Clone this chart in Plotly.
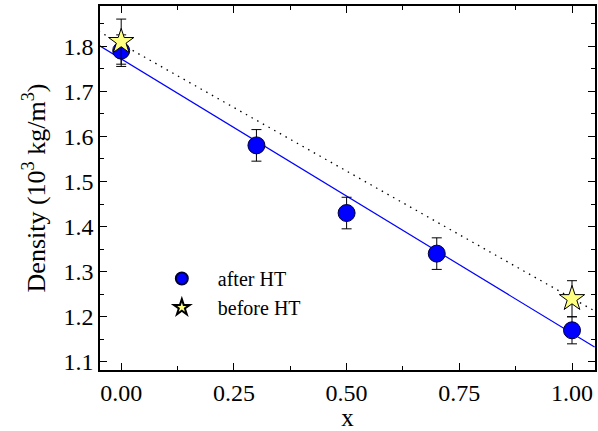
import plotly.graph_objects as go

after_x = [0.0, 0.3, 0.5, 0.7, 1.0]
after_y = [1.79, 1.58, 1.43, 1.34, 1.17]
after_err = [0.035, 0.035, 0.035, 0.035, 0.03]

before_x = [0.0, 1.0]
before_y = [1.81, 1.24]
before_err = [0.05, 0.04]

fit_after_x = [-0.05, 1.05]
fit_after_y = [1.802, 1.133]
fit_before_x = [-0.05, 1.05]
fit_before_y = [1.833, 1.213]

font_family = "Liberation Serif"

fig = go.Figure()
fig.add_trace(go.Scatter(x=fit_before_x, y=fit_before_y, mode="lines",
                         line=dict(color="black", width=1.3, dash="1.5px,5px"),
                         showlegend=False, hoverinfo="skip"))
fig.add_trace(go.Scatter(x=fit_after_x, y=fit_after_y, mode="lines",
                         line=dict(color="#0000ff", width=1.2),
                         showlegend=False, hoverinfo="skip"))
fig.add_trace(go.Scatter(x=after_x, y=after_y, mode="markers", name="after HT",
                         marker=dict(symbol="circle", size=17, color="#0000ff",
                                     line=dict(color="#000033", width=1)),
                         error_y=dict(type="data", array=after_err, color="black",
                                      thickness=1, width=5)))
fig.add_trace(go.Scatter(x=before_x, y=before_y, mode="markers", name="before HT",
                         marker=dict(symbol="star", size=19, color="#ffff80",
                                     line=dict(color="black", width=1)),
                         error_y=dict(type="data", array=before_err, color="black",
                                      thickness=1, width=5)))

axis_common = dict(showgrid=False, zeroline=False, showline=True, linecolor="black",
                   linewidth=1.5, mirror="ticks", ticks="inside", ticklen=7,
                   tickcolor="black", tickwidth=1.2,
                   tickfont=dict(family=font_family, size=24, color="black"))

fig.update_xaxes(range=[-0.047, 1.051], tickvals=[0, 0.25, 0.5, 0.75, 1.0],
                 ticktext=["0.00", "0.25", "0.50", "0.75", "1.00"],
                 minor=dict(tickvals=[0.125, 0.375, 0.625, 0.875], ticks="inside",
                            ticklen=4, tickcolor="black", tickwidth=1.2),
                 title=dict(text="x", font=dict(family=font_family, size=25, color="black"),
                            standoff=2),
                 **axis_common)
fig.update_yaxes(range=[1.082, 1.889], tickvals=[1.1, 1.2, 1.3, 1.4, 1.5, 1.6, 1.7, 1.8],
                 ticktext=["1.1", "1.2", "1.3", "1.4", "1.5", "1.6", "1.7", "1.8"],
                 minor=dict(tickvals=[1.15, 1.25, 1.35, 1.45, 1.55, 1.65, 1.75, 1.85],
                            ticks="inside", ticklen=4, tickcolor="black", tickwidth=1.2),
                 title=dict(text="Density (10<sup>3</sup> kg/m<sup>3</sup>)",
                            font=dict(family=font_family, size=26, color="black"),
                            standoff=10),
                 **axis_common)

fig.update_layout(width=598, height=431,
                  margin=dict(l=100, r=1, t=6, b=61),
                  paper_bgcolor="white", plot_bgcolor="white",
                  font=dict(family=font_family, color="black"),
                  legend=dict(x=0.0926, y=0.305, xanchor="left", yanchor="top",
                              bgcolor="rgba(0,0,0,0)", itemsizing="constant",
                              itemwidth=62,
                              font=dict(family=font_family, size=20, color="black")))

fig.write_html("out.html")
